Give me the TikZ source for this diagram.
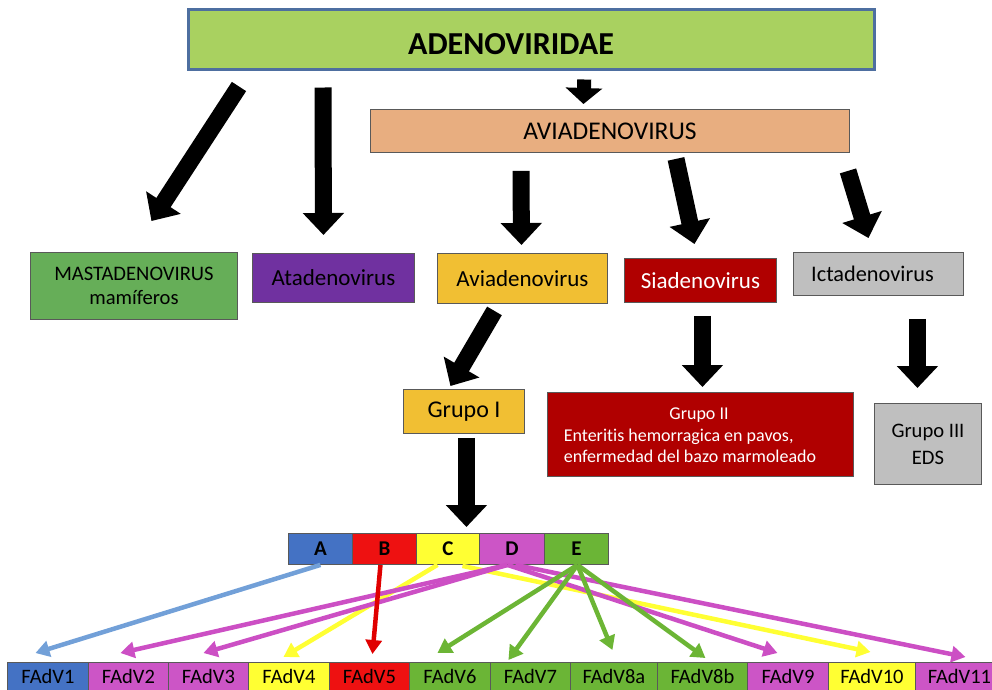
\documentclass[tikz,border=0pt]{standalone}
\usepackage{fontspec}
\setmainfont{Carlito}[Ligatures={NoCommon}]
\usetikzlibrary{arrows.meta,calc}
\definecolor{cAdeno}{HTML}{A9D160}
\definecolor{cAdenoB}{HTML}{4E6FA0}
\definecolor{cAvi}{HTML}{E8AE80}
\definecolor{cMast}{HTML}{66AE58}
\definecolor{cAta}{HTML}{7031A0}
\definecolor{cYel}{HTML}{F1BF33}
\definecolor{cRed}{HTML}{B00000}
\definecolor{cGray}{HTML}{BFBFBF}
\definecolor{cA}{HTML}{4472C4}
\definecolor{cB}{HTML}{EE1111}
\definecolor{cC}{HTML}{FFFF33}
\definecolor{cD}{HTML}{CC55C6}
\definecolor{cE}{HTML}{6BB536}
\definecolor{lBlue}{HTML}{72A0D8}
\definecolor{lRed}{HTML}{E00000}
\definecolor{lYel}{HTML}{FFFF33}
\definecolor{lPink}{HTML}{CC4FC4}
\definecolor{lGreen}{HTML}{6CB535}
\begin{document}
\begin{tikzpicture}[x=1pt,y=-1pt,
  box/.style={rectangle, draw=black!65, line width=0.9pt, inner sep=0pt, anchor=north west},
  blk/.style={line width=17pt, draw=black, -{Triangle[width=40pt,length=22pt]}},
  col/.style={line width=4.5pt, draw=#1, -{Triangle[width=16pt,length=14pt]}},
  txt/.style={font=\fontsize{23}{27}\selectfont},
  ftxt/.style={font=\fontsize{20.5}{24}\selectfont},
  btxt/.style={font=\bfseries\fontsize{21}{25}\selectfont}
]
\useasboundingbox (0,0) rectangle (992,689);

% top
\node[box, fill=cAdeno, draw=cAdenoB, line width=2.5pt, minimum width=686pt, minimum height=60pt] (adeno) at (187,8) {};
\node[font=\bfseries\fontsize{32}{36}\selectfont] (adenoT) at (511,44) {ADENOVIRIDAE};
\node[box, fill=cAvi, minimum width=479pt, minimum height=43pt, font=\fontsize{25.5}{29}\selectfont] (aviad) at (370,109) {AVIADENOVIRUS};

% second row
\node[box, fill=cMast, minimum width=207pt, minimum height=67pt, align=center, font=\fontsize{20.6}{24}\selectfont] (mast) at (30,252) {MASTADENOVIRUS\\mamíferos};
\node[box, fill=cAta, minimum width=162pt, minimum height=49pt, txt] (ata) at (252,253) {Atadenovirus};
\node[box, fill=cYel, minimum width=170pt, minimum height=50pt, txt] (avi) at (437,253) {Aviadenovirus};
\node[box, fill=cRed, minimum width=152pt, minimum height=44pt, txt, text=white] (sia) at (624,258) {Siadenovirus};
\node[box, fill=cGray, minimum width=170pt, minimum height=43pt, font=\fontsize{22.3}{26}\selectfont] (ict) at (793,252) {\hspace*{-12pt}Ictadenovirus};

% third row
\node[box, fill=cYel, minimum width=121pt, minimum height=44pt, font=\fontsize{24}{28}\selectfont] (g1) at (403,389) {Grupo I};
\node[box, fill=cRed, minimum width=306pt, minimum height=84pt] (g2) at (547,392) {};
\node[text=white, font=\fontsize{18}{21.5}\selectfont, inner sep=0pt] (g2t) at (690,437)
  {\begin{tabular}{@{}l@{}}\multicolumn{1}{@{}c@{}}{\hspace*{18pt}Grupo II}\\Enteritis hemorragica en pavos,\\enfermedad del bazo marmoleado\end{tabular}};
\node[box, fill=cGray, minimum width=107pt, minimum height=81pt, align=center, font=\fontsize{20.6}{27}\selectfont] (g3) at (874,403) {Grupo III\\EDS};

% bar
\node[box, fill=cA, minimum width=64pt, minimum height=31pt, btxt] (bA) at (288,533) {A};
\node[box, fill=cB, minimum width=64pt, minimum height=31pt, btxt] (bB) at (352,533) {B};
\node[box, fill=cC, minimum width=63pt, minimum height=31pt, btxt] (bC) at (416,533) {C};
\node[box, fill=cD, minimum width=65pt, minimum height=31pt, btxt] (bD) at (479,533) {D};
\node[box, fill=cE, minimum width=64pt, minimum height=31pt, btxt] (bE) at (544,533) {E};

% bottom row
\node[box, fill=cA, minimum width=81pt, minimum height=28pt, ftxt] (f1) at (7,662) {FAdV1};
\node[box, fill=cD, minimum width=80pt, minimum height=28pt, ftxt] (f2) at (88,662) {FAdV2};
\node[box, fill=cD, minimum width=80pt, minimum height=28pt, ftxt] (f3) at (168,662) {FAdV3};
\node[box, fill=cC, minimum width=81pt, minimum height=28pt, ftxt] (f4) at (248,662) {FAdV4};
\node[box, fill=cB, minimum width=80pt, minimum height=28pt, ftxt] (f5) at (329,662) {FAdV5};
\node[box, fill=cE, minimum width=81pt, minimum height=28pt, ftxt] (f6) at (409,662) {FAdV6};
\node[box, fill=cE, minimum width=80pt, minimum height=28pt, ftxt] (f7) at (490,662) {FAdV7};
\node[box, fill=cE, minimum width=87pt, minimum height=28pt, ftxt] (f8a) at (570,662) {FAdV8a};
\node[box, fill=cE, minimum width=90pt, minimum height=28pt, ftxt] (f8b) at (657,662) {FAdV8b};
\node[box, fill=cD, minimum width=81pt, minimum height=28pt, ftxt] (f9) at (747,662) {FAdV9};
\node[box, fill=cC, minimum width=87pt, minimum height=28pt, ftxt] (f10) at (828,662) {FAdV10};
\node[box, fill=cD, minimum width=88pt, minimum height=28pt, ftxt] (f11) at (915,662) {FAdV11};

% block arrows
\draw[blk] ($(adeno.south west)+(52,16)$) -- ($(mast.north)+(17.5,-31)$);
\draw[blk] ($(adeno.south west)+(136,17)$) -- ($(ata.north)+(-10,-18)$);
\draw[blk, line width=14pt, -{Triangle[width=36pt,length=16pt]}] ($(adeno.south)+(53,9)$) -- ($(aviad.north)+(-26.5,-5)$);
\draw[blk] ($(aviad.south west)+(151,18)$) -- ($(avi.north)+(-1,-8)$);
\draw[blk] ($(aviad.south west)+(306,6)$) -- ($(sia.north)+(-6,-14)$);
\draw[blk] ($(aviad.south west)+(478,18)$) -- ($(ict.north)+(-10,-14)$);
\draw[blk] ($(avi.south)+(-28,7)$) -- ($(g1.north)+(-13.5,-3)$);
\draw[blk] ($(sia.south)+(2,13)$) -- ($(g2.north)+(2,-5)$);
\draw[blk] ($(ict.south)+(39,23)$) -- ($(g3.north)+(-10.5,-15)$);
\draw[blk] ($(g1.south)+(2.5,4)$) -- ($(bC.north)+(18.5,-6)$);

% coloured arrows
\draw[col=lBlue] (bA.south) -- ($(f1.north)+(-12.5,-9)$);
\draw[col=lYel] ($(bC.south)+(-10.5,0)$) -- ($(f4.north)+(-5.5,-5)$);
\draw[col=lYel] ($(bC.south)+(14.5,1)$) -- ($(f10.north)+(-1.5,-10)$);
\draw[col=lPink] ($(bD.south)+(-4.5,0)$) -- ($(f2.north)+(-8,-9)$);
\draw[col=lPink] ($(bD.south)+(-4.5,0)$) -- ($(f3.north)+(-5,-9)$);
\draw[col=lPink] ($(bD.south)+(-4.5,0)$) -- ($(f9.north)+(-10.5,-9)$);
\draw[col=lPink] ($(bD.south)+(3.5,0)$) -- ($(f11.north)+(6,-5)$);
\draw[col=lGreen] ($(bE.south)+(1,0)$) -- ($(f6.north)+(-12.5,-9)$);
\draw[col=lGreen] ($(bE.south)+(1,0)$) -- ($(f7.north)+(-22,-2)$);
\draw[col=lGreen] ($(bE.south)+(1,0)$) -- ($(f8a.north)+(-1.5,-12)$);
\draw[col=lGreen] ($(bE.south)+(1,0)$) -- ($(f8b.north)+(3,-4)$);
\draw[col=lRed] ($(bB.south)+(-4,0)$) -- ($(f5.north)+(3,-8)$);
\end{tikzpicture}
\end{document}
